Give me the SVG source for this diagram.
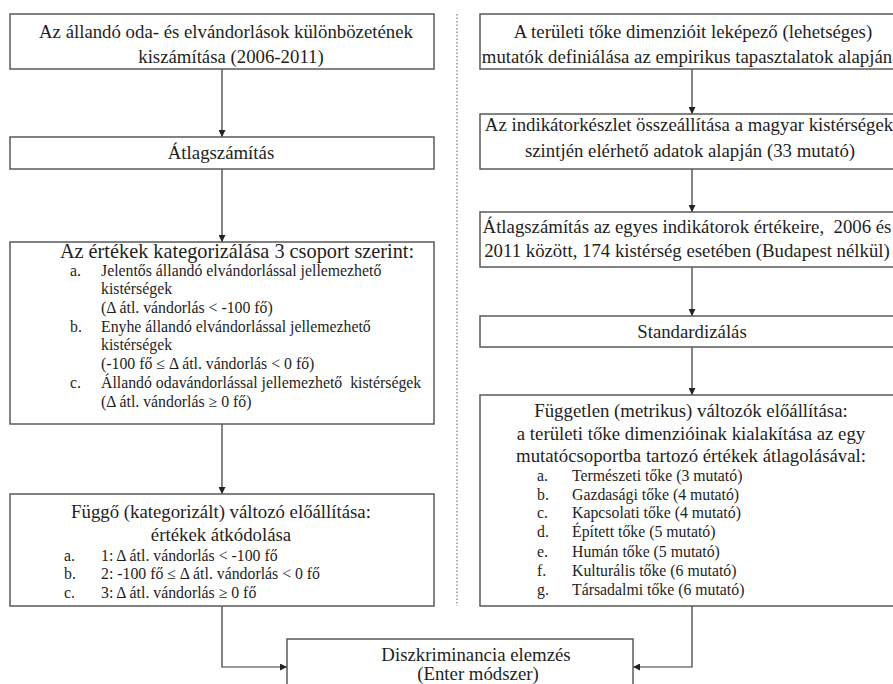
<svg xmlns="http://www.w3.org/2000/svg" width="893" height="684" viewBox="0 0 893 684" font-family="Liberation Serif">
<defs>
<marker id="arr" viewBox="0 0 10 10" refX="10" refY="5" markerWidth="7" markerHeight="7" orient="auto" markerUnits="userSpaceOnUse">
<path d="M0,0 L10,5 L0,10 z" fill="#222"/>
</marker>
<style>
.box{fill:#fff;stroke:#5a5a5a;stroke-width:1.5}
text{fill:#1e1e1e;font-size:18.8px}
.c{text-anchor:middle}
.big{font-size:20.3px}
.s text{font-size:15.8px}
.ln{fill:none;stroke:#333;stroke-width:1.2}
</style>
</defs>
<rect width="893" height="684" fill="#fff"/>
<line x1="457" y1="14" x2="457" y2="606" stroke="#777" stroke-width="1.2" stroke-dasharray="1.5 2"/>
<g id="connectors">
<line class="ln" x1="222" y1="69" x2="222" y2="137" marker-end="url(#arr)"/>
<line class="ln" x1="222" y1="169" x2="222" y2="242" marker-end="url(#arr)"/>
<line class="ln" x1="222" y1="424" x2="222" y2="494" marker-end="url(#arr)"/>
<polyline class="ln" points="222,606 222,667 287,667" marker-end="url(#arr)"/>
<line class="ln" x1="692" y1="69" x2="692" y2="114" marker-end="url(#arr)"/>
<line class="ln" x1="692" y1="169" x2="692" y2="212" marker-end="url(#arr)"/>
<line class="ln" x1="692" y1="267" x2="692" y2="316" marker-end="url(#arr)"/>
<line class="ln" x1="692" y1="347" x2="692" y2="395" marker-end="url(#arr)"/>
<polyline class="ln" points="692,606 692,667 633,667" marker-end="url(#arr)"/>
</g>
<g id="l1">
<rect class="box" x="10" y="14" width="424" height="55"/>
<text class="c" x="226" y="38">Az állandó oda- és elvándorlások különbözetének</text>
<text class="c" x="231" y="63">kiszámítása (2006-2011)</text>
</g>
<g id="l2">
<rect class="box" x="10" y="137" width="424" height="32"/>
<text class="c" x="221" y="159">Átlagszámítás</text>
</g>
<g id="l3">
<rect class="box" x="10" y="242" width="424" height="182"/>
<text class="c big" x="237" y="258">Az értékek kategorizálása 3 csoport szerint:</text>
<g class="s">
<text x="70" y="276">a.</text><text x="101" y="276">Jelentős állandó elvándorlással jellemezhető</text>
<text x="101" y="294">kistérségek</text>
<text x="101" y="313">(Δ átl. vándorlás &lt; -100 fő)</text>
<text x="70" y="332">b.</text><text x="101" y="332">Enyhe állandó elvándorlással jellemezhető</text>
<text x="101" y="350">kistérségek</text>
<text x="101" y="369">(-100 fő ≤ Δ átl. vándorlás &lt; 0 fő)</text>
<text x="70" y="388">c.</text><text x="101" y="388" xml:space="preserve">Állandó odavándorlással jellemezhető  kistérségek</text>
<text x="101" y="407">(Δ átl. vándorlás ≥ 0 fő)</text>
</g>
</g>
<g id="l4">
<rect class="box" x="10" y="494" width="424" height="112"/>
<text class="c" x="221" y="518">Függő (kategorizált) változó előállítása:</text>
<text class="c" x="221" y="541">értékek átkódolása</text>
<g class="s">
<text x="64" y="561">a.</text><text x="101" y="561">1: Δ átl. vándorlás &lt; -100 fő</text>
<text x="64" y="579">b.</text><text x="101" y="579">2: -100 fő ≤ Δ átl. vándorlás &lt; 0 fő</text>
<text x="64" y="598">c.</text><text x="101" y="598">3: Δ átl. vándorlás ≥ 0 fő</text>
</g>
</g>
<g id="r1">
<rect class="box" x="480" y="14" width="425" height="55"/>
<text class="c" x="693" y="38">A területi tőke dimenzióit leképező (lehetséges)</text>
<text class="c" x="687" y="63">mutatók definiálása az empirikus tapasztalatok alapján</text>
</g>
<g id="r2">
<rect class="box" x="480" y="114" width="425" height="55"/>
<text class="c" x="689" y="131">Az indikátorkészlet összeállítása a magyar kistérségek</text>
<text class="c" x="690" y="157">szintjén elérhető adatok alapján (33 mutató)</text>
</g>
<g id="r3">
<rect class="box" x="480" y="212" width="425" height="55"/>
<text class="c" x="687" y="233" xml:space="preserve">Átlagszámítás az egyes indikátorok értékeire,  2006 és</text>
<text class="c" x="687" y="257">2011 között, 174 kistérség esetében (Budapest nélkül)</text>
</g>
<g id="r4">
<rect class="box" x="480" y="316" width="425" height="31"/>
<text class="c" x="692" y="338">Standardizálás</text>
</g>
<g id="r5">
<rect class="box" x="480" y="395" width="425" height="211"/>
<text class="c" x="691" y="417">Független (metrikus) változók előállítása:</text>
<text class="c" x="691" y="440">a területi tőke dimenzióinak kialakítása az egy</text>
<text class="c" x="691" y="462">mutatócsoportba tartozó értékek átlagolásával:</text>
<g class="s">
<text x="537" y="481">a.</text><text x="572" y="481">Természeti tőke (3 mutató)</text>
<text x="537" y="500">b.</text><text x="572" y="500">Gazdasági tőke (4 mutató)</text>
<text x="537" y="518">c.</text><text x="572" y="518">Kapcsolati tőke (4 mutató)</text>
<text x="537" y="537">d.</text><text x="572" y="537">Épített tőke (5 mutató)</text>
<text x="537" y="557">e.</text><text x="572" y="557">Humán tőke (5 mutató)</text>
<text x="537" y="576">f.</text><text x="572" y="576">Kulturális tőke (6 mutató)</text>
<text x="537" y="595">g.</text><text x="572" y="595">Társadalmi tőke (6 mutató)</text>
</g>
</g>
<g id="bottom">
<rect class="box" x="287" y="639" width="346" height="60"/>
<text class="c" x="476" y="661">Diszkriminancia elemzés</text>
<text class="c" x="478" y="680">(Enter módszer)</text>
</g>
</svg>
